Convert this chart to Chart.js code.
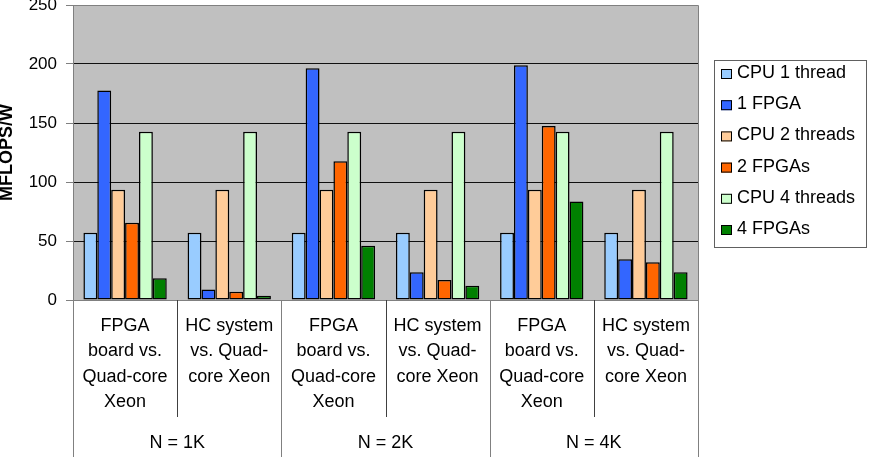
<!DOCTYPE html>
<html>
<head>
<meta charset="utf-8">
<script src="https://cdn.jsdelivr.net/npm/chart.js@4/dist/chart.umd.min.js"></script>
<style>
  body { margin: 0; background: #fff; }
  #wrap { width: 876px; height: 470px; }
</style>
</head>
<body>
<div id="wrap"><canvas id="mflops-chart" width="876" height="470"></canvas></div>
<script>
const categories = [
    ['FPGA', 'board vs.', 'Quad-core', 'Xeon'],
    ['HC system', 'vs. Quad-', 'core Xeon'],
    ['FPGA', 'board vs.', 'Quad-core', 'Xeon'],
    ['HC system', 'vs. Quad-', 'core Xeon'],
    ['FPGA', 'board vs.', 'Quad-core', 'Xeon'],
    ['HC system', 'vs. Quad-', 'core Xeon']
];
const groupLabels = ['N = 1K', 'N = 2K', 'N = 4K'];
const seriesNames = ['CPU 1 thread', '1 FPGA', 'CPU 2 threads', '2 FPGAs', 'CPU 4 threads', '4 FPGAs'];
const seriesColors = ['#99ccff', '#3366ff', '#ffcc99', '#ff6600', '#ccffcc', '#008000'];

const cpu1Thread = [57, 57, 57, 57, 57, 57];
const fpga1 = [177.5, 9, 196.5, 23.5, 199, 34.5];
const cpu2Threads = [93.5, 93.5, 93.5, 93.5, 93.5, 93.5];
const fpga2 = [65.5, 7, 117.5, 17, 147.5, 32];
const cpu4Threads = [142.5, 142.5, 142.5, 142.5, 142.5, 142.5];
const fpga4 = [18.5, 3.5, 46, 12, 83.5, 23.5];
const yTicks = [0, 50, 100, 150, 200, 250];

const seriesValues = [cpu1Thread, fpga1, cpu2Threads, fpga2, cpu4Threads, fpga4];
const fontFamily = '"Liberation Sans", Arial, sans-serif';

// grey plot area, borders, category separators, group labels, boxed legend
const decorPlugin = {
    id: 'decor',
    beforeDraw(chart) {
        const ctx = chart.ctx;
        const a = chart.chartArea;
        ctx.save();
        ctx.fillStyle = '#c0c0c0';
        ctx.fillRect(a.left, a.top, a.right - a.left, a.bottom - a.top);
        ctx.restore();
    },
    afterDraw(chart) {
        const ctx = chart.ctx;
        const a = chart.chartArea;
        const x = chart.scales.x;
        const n = chart.data.labels.length;
        const step = (x.right - x.left) / n;
        ctx.save();

        // top and right border of plot
        ctx.strokeStyle = '#808080';
        ctx.lineWidth = 1;
        ctx.beginPath();
        ctx.moveTo(a.left, a.top + 0.5);
        ctx.lineTo(a.right + 0.5, a.top + 0.5);
        ctx.lineTo(a.right + 0.5, a.bottom);
        ctx.stroke();

        // separators below the axis
        for (let i = 0; i <= n; i++) {
            const px = Math.round(x.left + i * step) + 0.5;
            const outer = i % 2 === 0;
            ctx.strokeStyle = outer ? '#808080' : '#404040';
            ctx.beginPath();
            ctx.moveTo(px, a.bottom);
            ctx.lineTo(px, outer ? 457 : 417);
            ctx.stroke();
        }

        // group labels
        ctx.fillStyle = '#000';
        ctx.font = '18px ' + fontFamily;
        ctx.textAlign = 'center';
        ctx.textBaseline = 'middle';
        groupLabels.forEach((label, g) => {
            const cx = x.left + (2 * g + 1) * step;
            ctx.fillText(label, cx, 443);
        });

        // legend
        ctx.strokeStyle = '#606060';
        ctx.strokeRect(714.5, 60.5, 152, 187);
        ctx.textAlign = 'left';
        chart.data.datasets.forEach((ds, i) => {
            const cy = 73 + i * 31.2;
            ctx.fillStyle = ds.backgroundColor;
            ctx.fillRect(721, cy - 4, 11, 10);
            ctx.strokeStyle = '#000';
            ctx.strokeRect(721.5, cy - 3.5, 10, 9);
            ctx.fillStyle = '#000';
            ctx.fillText(ds.label, 737, cy);
        });
        ctx.restore();
    }
};

function buildDatasets() {
    return seriesNames.map((name, i) => ({
        label: name,
        data: seriesValues[i],
        backgroundColor: seriesColors[i],
        borderColor: '#000',
        borderWidth: 1.5,
        borderSkipped: false,
        categoryPercentage: 0.8,
        barPercentage: 1.0
    }));
}

const ctx = document.getElementById('mflops-chart').getContext('2d');
new Chart(ctx, {
    type: 'bar',
    data: {
        labels: categories,
        datasets: buildDatasets()
    },
    options: {
        responsive: false,
        animation: false,
        layout: { padding: { top: 5, right: 178, bottom: 0, left: 0 } },
        plugins: {
            legend: { display: false },
            tooltip: { enabled: false }
        },
        scales: {
            x: {
                offset: true,
                grid: { display: false, drawOnChartArea: false, drawTicks: false },
                border: { display: true, color: '#808080' },
                ticks: {
                    color: '#000',
                    font: { family: fontFamily, size: 18, lineHeight: 1.39 },
                    padding: 14,
                    maxRotation: 0,
                    autoSkip: false
                },
                afterFit(scale) {
                    scale.height = 170;
                    scale.paddingLeft = 0;
                    scale.paddingRight = 0;
                }
            },
            y: {
                min: 0,
                max: 250,
                afterBuildTicks(scale) {
                    scale.ticks = yTicks.map(v => ({ value: v }));
                },
                grid: {
                    color: ctx => (ctx.tick && ctx.tick.value === 250 ? '#808080' : '#101010'),
                    tickColor: '#808080',
                    tickLength: 7
                },
                border: { display: true, color: '#808080' },
                ticks: {
                    color: '#000',
                    font: { family: fontFamily, size: 17 },
                    padding: 9
                },
                title: {
                    display: true,
                    text: 'MFLOPS/W',
                    color: '#000',
                    font: { family: fontFamily, size: 18, weight: 'bold', lineHeight: 1 },
                    padding: { top: -2, bottom: 0 }
                },
                afterFit(scale) {
                    scale.width = 73;
                    scale.paddingTop = 0;
                    scale.paddingBottom = 0;
                }
            }
        }
    },
    plugins: [decorPlugin]
});
</script>
</body>
</html>
